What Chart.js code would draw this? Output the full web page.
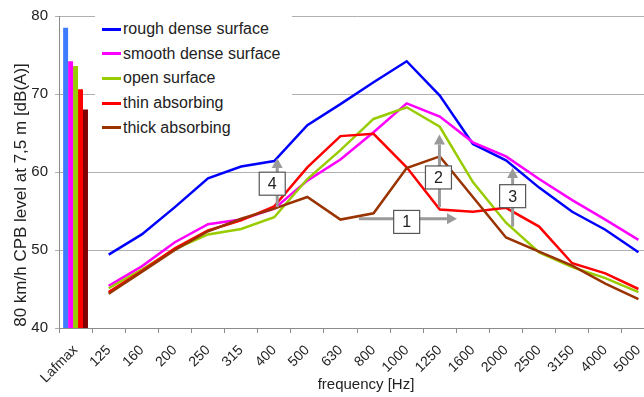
<!DOCTYPE html>
<html>
<head>
<meta charset="utf-8">
<script src="https://cdn.jsdelivr.net/npm/chart.js@4.4.1/dist/chart.umd.min.js"></script>
<style>
    html, body { margin: 0; padding: 0; background: #ffffff; overflow: hidden; }
    #wrap { position: relative; width: 660px; height: 397px; }
    #legend {
        position: absolute; left: 95px; top: 16px; width: 197px; height: 124px;
        background: #ffffff; font: 16px "Liberation Sans", Arial, sans-serif; color: #222222;
    }
    .item { position: absolute; left: 7px; height: 20px; display: flex; align-items: center; white-space: nowrap; }
    .swatch { width: 19px; height: 3px; margin-right: 2px; }
</style>
</head>
<body>
<div id="wrap">
    <canvas id="chart" width="660" height="397"></canvas>
    <div id="legend"></div>
</div>
<script>
const categories = ["Lafmax", "125", "160", "200", "250", "315", "400", "500", "630", "800",
    "1000", "1250", "1600", "2000", "2500", "3150", "4000", "5000"];
const surfaces = ["rough dense surface", "smooth dense surface", "open surface", "thin absorbing", "thick absorbing"];

// overall Lafmax per surface (bars)
const lafmaxValues = [78.5, 74.2, 73.6, 70.6, 68.0];

// one-third octave band levels, 125 Hz .. 5000 Hz
const roughDense = [49.4, 52.0, 55.5, 59.2, 60.7, 61.4, 66.0, 68.7, 71.5, 74.2, 69.8, 63.6, 61.5, 58.0, 54.9, 52.6, 49.7];
const smoothDense = [45.4, 47.9, 51.0, 53.3, 53.9, 55.3, 58.9, 61.6, 65.1, 68.8, 67.1, 63.8, 62.0, 59.1, 56.4, 53.9, 51.3];
const openSurface = [45.1, 47.5, 50.1, 52.0, 52.7, 54.2, 59.1, 62.8, 66.8, 68.3, 65.8, 58.7, 53.5, 49.7, 47.8, 46.4, 44.6];
const thinAbsorbing = [44.6, 47.3, 50.2, 52.5, 53.8, 55.6, 60.6, 64.6, 64.9, 60.6, 55.2, 54.9, 55.4, 53.0, 48.3, 47.0, 45.0];
const thickAbsorbing = [44.4, 47.2, 50.0, 52.4, 54.0, 55.3, 56.8, 53.9, 54.7, 60.5, 62.0, 56.8, 51.6, 49.8, 48.0, 45.7, 43.7];

const yTicks = [40, 50, 60, 70, 80];

// numbered markers, in axis units (category index, level)
const markerArrows = [[6.09, 55.5, 6.09, 61.8], [10.99, 55.5, 10.99, 64.8], [13.2, 53.0, 13.2, 60.5], [8.56, 54.0, 11.52, 54.0]];
const markerBoxes = [["1", 10.0, 53.6], ["2", 10.96, 59.3], ["3", 13.2, 56.9], ["4", 5.94, 58.5]];

const lineColors = ["#0000ff", "#ff00ff", "#99cc00", "#ff0000", "#993300"];
const barColors = ["#3d7cff", "#ff00ff", "#99cc00", "#ff0000", "#800000"];
const FONT = '"Liberation Sans", Arial, sans-serif';

const bandSeries = [roughDense, smoothDense, openSurface, thinAbsorbing, thickAbsorbing];

const barSets = surfaces.map((name, i) => ({
    type: "bar",
    label: name + " Lafmax",
    data: [lafmaxValues[i]],
    backgroundColor: barColors[i],
    borderWidth: 0,
    categoryPercentage: 0.75,
    barPercentage: 1,
    order: 10
}));

const lineSets = surfaces.map((name, i) => ({
    type: "line",
    label: name,
    data: [null].concat(bandSeries[i]),
    borderColor: lineColors[i],
    backgroundColor: lineColors[i],
    borderWidth: 2.5,
    pointRadius: 0,
    tension: 0,
    order: 5 - i
}));

const markers = {
    id: "markers",
    afterDatasetsDraw(chart) {
        const { ctx, scales: { x, y } } = chart;
        ctx.save();
        ctx.strokeStyle = "#9a9a9a";
        ctx.fillStyle = "#9a9a9a";
        ctx.lineWidth = 3;
        markerArrows.forEach(([x0, y0, x1, y1]) => {
            const ax = x.getPixelForValue(x0), ay = y.getPixelForValue(y0);
            const bx = x.getPixelForValue(x1), by = y.getPixelForValue(y1);
            const ang = Math.atan2(by - ay, bx - ax);
            const head = 10, half = 5.5;
            const hx = bx - head * Math.cos(ang), hy = by - head * Math.sin(ang);
            ctx.beginPath();
            ctx.moveTo(ax, ay);
            ctx.lineTo(hx, hy);
            ctx.stroke();
            ctx.beginPath();
            ctx.moveTo(bx, by);
            ctx.lineTo(hx - half * Math.sin(ang), hy + half * Math.cos(ang));
            ctx.lineTo(hx + half * Math.sin(ang), hy - half * Math.cos(ang));
            ctx.closePath();
            ctx.fill();
        });
        ctx.lineWidth = 1.2;
        ctx.strokeStyle = "#555555";
        ctx.font = "16px " + FONT;
        ctx.textAlign = "center";
        ctx.textBaseline = "middle";
        markerBoxes.forEach(([txt, cx, cy]) => {
            const px = x.getPixelForValue(cx), py = y.getPixelForValue(cy);
            ctx.fillStyle = "#ffffff";
            ctx.fillRect(px - 13, py - 11.5, 26, 23);
            ctx.strokeRect(px - 13, py - 11.5, 26, 23);
            ctx.fillStyle = "#222222";
            ctx.fillText(txt, px, py + 1);
        });
        ctx.restore();
    },
    afterDraw(chart) {
        const { ctx } = chart;
        ctx.save();
        ctx.fillStyle = "#222222";
        ctx.textAlign = "center";
        ctx.textBaseline = "middle";
        ctx.font = "15px " + FONT;
        ctx.fillText("frequency [Hz]", 366, 385);
        ctx.translate(21, 195);
        ctx.rotate(-Math.PI / 2);
        ctx.font = "17px " + FONT;
        ctx.fillText("80 km/h CPB level at 7,5 m [dB(A)]", 0, 0);
        ctx.restore();
    }
};

const chart = new Chart(document.getElementById("chart"), {
    type: "bar",
    data: {
        labels: categories,
        datasets: barSets.concat(lineSets)
    },
    options: {
        responsive: false,
        animation: false,
        devicePixelRatio: 1,
        layout: { padding: { top: 15, right: 5, left: 0, bottom: 0 } },
        plugins: {
            legend: { display: false },
            tooltip: { enabled: false }
        },
        scales: {
            x: {
                offset: true,
                grid: {
                    offset: true,
                    drawOnChartArea: false,
                    drawTicks: true,
                    tickLength: 5,
                    color: "#8c8c8c"
                },
                border: { color: "#8c8c8c" },
                ticks: {
                    autoSkip: false,
                    minRotation: 45,
                    maxRotation: 45,
                    padding: 9,
                    color: "#222222",
                    font: { family: FONT, size: 14 }
                },
                afterFit: (scale) => { scale.height = 69; }
            },
            y: {
                min: yTicks[0],
                max: yTicks[yTicks.length - 1],
                afterBuildTicks: (scale) => { scale.ticks = yTicks.map((v) => ({ value: v })); },
                grid: { color: "#b0b0b0", tickLength: 4 },
                border: { color: "#8c8c8c" },
                ticks: {
                    padding: 7,
                    color: "#222222",
                    font: { family: FONT, size: 15 }
                },
                afterFit: (scale) => { scale.width = 59; }
            }
        }
    },
    plugins: [markers]
});

const legendBox = document.getElementById("legend");
surfaces.forEach((name, i) => {
    const item = document.createElement("div");
    item.className = "item";
    item.style.top = (3 + i * 24.7) + "px";
    item.innerHTML = `<span class="swatch" style="background:${lineColors[i]}"></span><span>${name}</span>`;
    legendBox.appendChild(item);
});
</script>
</body>
</html>
